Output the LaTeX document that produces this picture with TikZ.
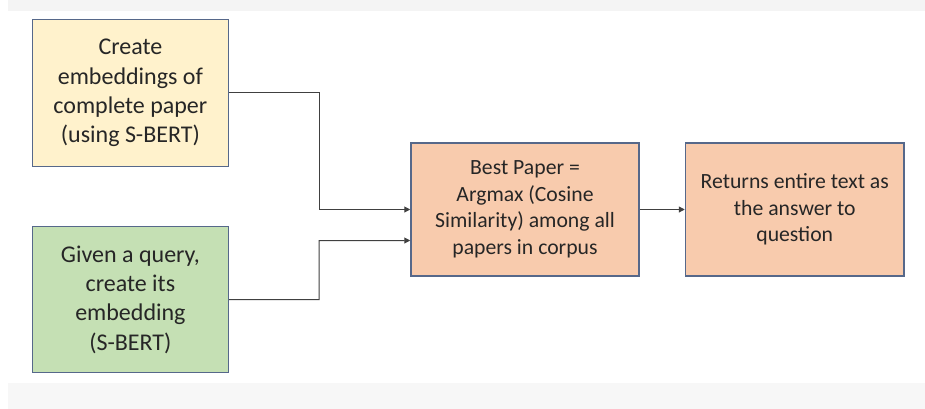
\documentclass[tikz,border=0pt]{standalone}
\usepackage{fontspec}
\setmainfont{Carlito}
\usetikzlibrary{arrows.meta,calc}
\definecolor{bordc}{HTML}{56688A}
\definecolor{yel}{HTML}{FFF2CC}
\definecolor{grn}{HTML}{C5E0B4}
\definecolor{org}{HTML}{F8CBAD}
\definecolor{txtc}{HTML}{262626}
\definecolor{linec}{HTML}{404040}
\definecolor{bandc}{HTML}{F4F4F4}
\tikzset{
  box/.style={draw=bordc, line width=1.5pt, inner sep=0pt, align=center, text=txtc},
  bigtext/.style={font=\fontsize{24}{29.3}\selectfont},
  smalltext/.style={font=\fontsize{21.7}{26.5}\selectfont},
  conn/.style={draw=linec, line width=1pt, -{Triangle[length=6pt,width=6pt]}}
}
\begin{document}
\begin{tikzpicture}[x=1pt,y=-1pt]
\useasboundingbox (0,0) rectangle (925,409);
\fill[white] (0,0) rectangle (925,409);
\fill[bandc] (8,0) rectangle (925,11);
\fill[bandc!70!white] (8,383) rectangle (925,409);
\node[box, bigtext, fill=yel, minimum width=196pt, minimum height=147pt] (y) at (130.4,93)
  {Create\\embeddings of\\complete paper\\(using S-BERT)};
\node[box, bigtext, fill=grn, minimum width=196pt, minimum height=146pt] (g) at (130.4,299.7)
  {Given a query,\\create its\\embedding\\(S-BERT)};
\node[box, smalltext, fill=org, minimum width=228pt, minimum height=132.6pt] (m) at (525,209.5)
  {Best Paper =\\Argmax (Cosine\\Similarity) among all\\papers in corpus};
\node[box, smalltext, fill=org, minimum width=218.5pt, minimum height=132.6pt] (r) at (794.75,209.5)
  {Returns entire text as\\the answer to\\question};
\coordinate (j1) at (319,93);
\coordinate (j2) at (319,299.5);
\draw[conn] (y.east) -- (j1) |- (m.west);
\draw[conn] (g.east) -- (j2) |- ($(m.west)+(0,31)$);
\draw[conn] (m.east) -- (r.west);
\end{tikzpicture}
\end{document}
